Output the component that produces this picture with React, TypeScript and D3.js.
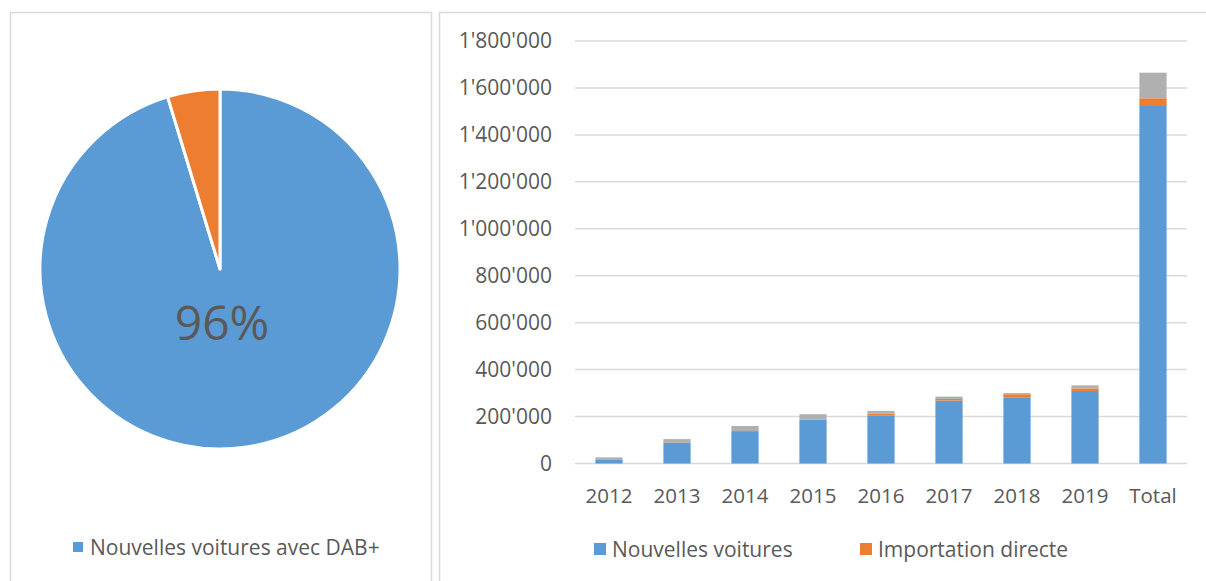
import React from "react";
import * as d3 from "d3";

const years = ["2012", "2013", "2014", "2015", "2016", "2017", "2018", "2019", "Total"];
const newCars = [15000, 88000, 138000, 187000, 205000, 268000, 282000, 309000, 1527000];
const directImport = [0, 0, 0, 0, 7000, 7000, 13000, 11000, 29000];
const otherGray = [11000, 16000, 22000, 23000, 12000, 10000, 5000, 13000, 109000];
const yTicks = [0, 200000, 400000, 600000, 800000, 1000000, 1200000, 1400000, 1600000, 1800000];

const pieLabels = ["Nouvelles voitures avec DAB+", "Autres"];
const pieValues = [95.3, 4.7];
const pieText = "96%";

const barLegend = ["Nouvelles voitures", "Importation directe"];

const BLUE = "#5B9BD5";
const ORANGE = "#ED7D31";
const GRAY = "#B0B0B0";
const TEXT = "#595959";
const GRID = "#D9D9D9";
const FONT = "'Open Sans', sans-serif";

const locale = d3.formatLocale({ thousands: "'", grouping: [3], decimal: ".", currency: ["", ""] });
const fmt = locale.format(",d");

export default function App() {
  const W = 1206, H = 581;

  // Pie
  const cx = 220, cy = 269, r = 180;
  const pie = d3.pie<number>().sort(null).startAngle(0).endAngle(2 * Math.PI)(pieValues);
  const arc = d3.arc<d3.PieArcDatum<number>>().innerRadius(0).outerRadius(r);
  const pieColors = [BLUE, ORANGE];

  // Bars
  const x = d3.scaleBand<string>().domain(years).range([575, 1187]).paddingInner(0.6).paddingOuter(0.3);
  const y = d3.scaleLinear().domain([0, 1800000]).range([463.5, 41]);
  const series = [
    { vals: newCars, color: BLUE },
    { vals: directImport, color: ORANGE },
    { vals: otherGray, color: GRAY },
  ];

  return (
    <svg width={W} height={H} style={{ position: "absolute", left: 0, top: 0, background: "#fff" }}>
      <rect x={0} y={0} width={W} height={H} fill="#fff" />
      {/* panels */}
      <rect x={10.5} y={12.5} width={421} height={H + 10} fill="#fff" stroke={GRID} strokeWidth={1.5} />
      <rect x={439.5} y={12.5} width={W + 10} height={H + 10} fill="#fff" stroke={GRID} strokeWidth={1.5} />

      {/* Pie */}
      <g transform={`translate(${cx},${cy})`}>
        {pie.map((d, i) => (
          <path key={i} d={arc(d) || ""} fill={pieColors[i]} stroke="#fff" strokeWidth={3} strokeLinejoin="round" />
        ))}
      </g>
      <text x={222} y={340} textAnchor="middle" fontFamily={FONT} fontSize={48} fill={TEXT}>{pieText}</text>
      <rect x={73} y={542} width={10} height={10} fill={BLUE} />
      <text x={90} y={555} fontFamily={FONT} fontSize={21} fill={TEXT}>{pieLabels[0]}</text>

      {/* Grid + y axis */}
      {yTicks.map((t) => (
        <g key={t}>
          <line x1={575} x2={1187} y1={y(t)} y2={y(t)} stroke={GRID} strokeWidth={1.5} />
          <text x={552} y={y(t)} dy="0.35em" textAnchor="end" fontFamily={FONT} fontSize={21} fill={TEXT}>{fmt(t)}</text>
        </g>
      ))}

      {/* Bars */}
      {years.map((yr, i) => {
        let base = 0;
        return (
          <g key={yr}>
            {series.map((s, j) => {
              const v = s.vals[i];
              const y0 = y(base);
              const y1 = y(base + v);
              base += v;
              return v > 0 ? (
                <rect key={j} x={x(yr)} width={x.bandwidth()} y={y1} height={y0 - y1} fill={s.color} />
              ) : null;
            })}
            <text x={(x(yr) || 0) + x.bandwidth() / 2} y={503} textAnchor="middle" fontFamily={FONT} fontSize={20.5} fill={TEXT}>{yr}</text>
          </g>
        );
      })}

      {/* Bar legend */}
      <rect x={594} y={543} width={12} height={12} fill={BLUE} />
      <text x={612} y={557} fontFamily={FONT} fontSize={21} fill={TEXT}>{barLegend[0]}</text>
      <rect x={860} y={543} width={12} height={12} fill={ORANGE} />
      <text x={878} y={557} fontFamily={FONT} fontSize={21} fill={TEXT}>{barLegend[1]}</text>
    </svg>
  );
}
